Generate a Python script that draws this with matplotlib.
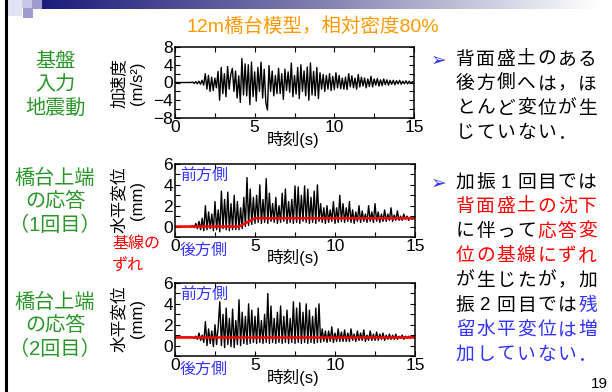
import numpy as np
import matplotlib.pyplot as plt
from matplotlib.ticker import MultipleLocator
from matplotlib.colors import LinearSegmentedColormap
from matplotlib.patches import Rectangle

plt.rcParams['font.family'] = ['Liberation Sans', 'Noto Sans CJK JP', 'DejaVu Sans']

W, H = 612, 392

# ---------------- data (0.1 s step) ----------------
dt = 0.1
acc = [0, 0, 0, 0, 0, 0, 0, 0, 0, 0, 0,
       0.1, -0.2, 0.2, -0.3, 0.3, -0.4, 0.5, -0.6,
       2.0, -1.5, 1.6, -2.0, 1.2, -1.8, 1.0, -1.2,
       2.5, -4.0, 3.4, -2.5, 2.0, -3.2, 3.6, -1.5, 1.8,
       3.2, -2.0, 2.6, -3.5, 1.5, -4.5, 5.4, -2.8, 4.2, -3.0,
       4.0, -5.0, 4.6, -3.2, 2.4, -4.2, 3.4, -2.0, 4.6, -3.5,
       3.0, -4.5, -6.2, 3.8, -2.0, 2.6, -3.0, 1.6, -2.5, 3.2,
       -2.5, 2.0, -3.8, 3.0, -1.8, 2.4, -2.2, 4.4, -3.2, 1.6,
       -2.6, 3.4, -3.6, 4.0, -2.0, 2.6, -3.0, 3.5, -4.0, 4.4,
       -2.8, 2.5, -3.0, 3.4, -3.6, 2.2, -1.5, 1.8, -2.0, 1.6,
       -1.5, 2.0, -1.8, 1.4, -1.6, 2.2, -1.2, 1.6, -1.4, 1.0,
       -1.5, 1.2, -1.6, 2.0, -1.0, 1.5, -1.2, 1.0, -1.5, 1.8,
       -1.0, 1.2, -0.8, 1.0, -1.2, 0.8, -0.9, 1.4, -1.0, 0.8,
       -0.6, 0.9, -0.8, 0.6, -0.7, 0.8, -0.5, 0.6, -0.6, 0.5,
       -0.4, 0.5, -0.5, 0.4, -0.3, 0.5, -0.4, 0.3, -0.3, 0.4,
       -0.3, 0.3, -0.2, 0.2, 0.0]

disp1 = [0, 0, 0, 0, 0, 0, 0, 0, 0, 0, 0,
         0.1, -0.1, 0.3, -0.2, 0.5, -0.3, 0.8, -0.4,
         2.0, -0.3, 1.4, -0.2, 1.2, -0.4, 2.4, -0.3,
         1.6, -0.5, 3.4, -0.2, 2.6, -0.3, 3.3, -0.4, 2.2,
         -0.3, 3.0, -0.3, 2.4, -0.3, 1.8, -0.2, 2.8, 0.0, 4.7,
         0.1, 3.6, 0.2, 2.8, 0.3, 3.0, 0.4, 4.0, 0.3, 2.6,
         0.4, 4.6, 0.3, 3.2, 0.5, 2.2, 0.4, 2.8, 0.3, 2.0,
         0.4, 3.2, 0.5, 3.6, 0.3, 2.4, 0.4, 2.6, 0.3, 3.9,
         0.4, 3.8, 0.3, 3.0, 0.5, 3.9, 0.4, 3.6, 0.3, 2.8,
         0.4, 3.4, 0.3, 4.0, 0.5, 2.2, 0.4, 1.8, 0.3, 2.0,
         0.4, 1.6, 0.5, 2.4, 0.3, 1.8, 0.4, 3.0, 0.5, 2.2,
         0.4, 1.8, 0.5, 2.4, 0.4, 1.6, 0.3, 1.4, 0.5, 2.0,
         0.4, 1.5, 0.5, 1.2, 0.4, 2.0, 0.5, 1.4, 0.4, 2.2,
         0.5, 1.4, 0.4, 1.2, 0.5, 1.6, 0.5, 1.2, 0.6, 1.8,
         0.5, 1.1, 0.6, 1.5, 0.6, 1.0, 0.6, 1.2, 0.7, 1.0,
         0.6, 0.9, 0.7, 0.8, 0.8]

disp2 = [0.8, 0.8, 0.8, 0.8, 0.8, 0.8, 0.8, 0.8, 0.8, 0.8, 0.8,
         0.8, 0.7, 0.9, 0.6, 1.2, 0.5, 1.0, 0.3,
         2.3, 0.0, 1.6, 0.2, 1.4, -0.1, 2.0, 0.1,
         1.8, 4.2, 0.0, 3.0, -0.2, 3.6, 0.1, 2.6, -0.1,
         3.5, -0.2, 2.4, 0.1, 4.4, 0.0, 3.2, 0.2, 2.8, 0.1,
         4.0, 0.2, 3.4, 0.3, 2.8, 0.2, 3.6, 0.3, 2.4, 0.2,
         3.0, 0.3, 5.0, 0.2, 3.8, 0.3, 2.6, 0.2, 3.2, 0.3,
         3.8, 0.2, 2.8, 0.3, 3.4, 0.2, 2.6, 0.3, 4.2, 0.2,
         3.6, 0.3, 4.1, 0.2, 3.2, 0.3, 4.0, 0.2, 3.4, 0.3,
         2.8, 0.2, 3.6, 0.3, 4.0, 0.3, 1.6, 0.4, 1.4, 0.3,
         1.4, 0.4, 1.8, 0.3, 1.2, 0.4, 1.6, 0.4, 1.3, 0.4,
         1.5, 0.4, 1.2, 0.4, 1.6, 0.5, 1.1, 0.4, 1.4, 0.5,
         1.2, 0.5, 1.5, 0.4, 1.0, 0.5, 1.4, 0.5, 1.1, 0.5,
         1.3, 0.5, 1.1, 0.6, 1.2, 0.5, 1.0, 0.6, 1.1, 0.6,
         1.0, 0.6, 1.1, 0.6, 0.9, 0.7, 1.0, 0.6, 0.9, 0.7,
         0.9, 0.7, 0.9, 0.8, 0.9]

base1_t = [0, 4, 5, 15]
base1 = [0, 0, 0.8, 0.8]
base2_t = [0, 15]
base2 = [0.8, 0.8]

title = "12m橋台模型，相対密度80%"
left_labels = [["基盤", "入力", "地震動"],
               ["橋台上端", "の応答", "（1回目）"],
               ["橋台上端", "の応答", "（2回目）"]]
ylabels = [("加速度", "(m/s²)"), ("水平変位", "(mm)"), ("水平変位", "(mm)")]

K, R, B = 'black', '#ff0000', '#3333ff'
block1 = [[("背面盛土のある", K)],
          [("後方側へは，ほ", K)],
          [("とんど変位が生", K)],
          [("じていない．", K)]]
block2 = [[("加振1回目では", K)],
          [("背面盛土の沈下", R)],
          [("に伴って", K), ("応答変", R)],
          [("位の基線にずれ", R)],
          [("が生じたが，加", K)],
          [("振2回目では", K), ("残", B)],
          [("留水平変位は増", B)],
          [("加していない．", B)]]

# ---------------- figure ----------------
fig = plt.figure(figsize=(W / 100, H / 100), dpi=100)
bg = fig.add_axes([0, 0, 1, 1])
bg.set_xlim(0, W)
bg.set_ylim(H, 0)
bg.axis('off')

# slide decoration
cmap = LinearSegmentedColormap.from_list('bar', ['#1c1c7c', '#8080b0', '#ffffff'])
grad = np.linspace(0, 1, 256).reshape(1, -1)
bg.imshow(grad, cmap=cmap, extent=(42, 600, 8.5, 0), aspect='auto')
bg.add_patch(Rectangle((8, 0), 14, 16, color='#e2e2f2', lw=0))
bg.add_patch(Rectangle((22, 0), 10, 7.5, color='#c8c8e6', lw=0))
bg.add_patch(Rectangle((32, 0), 10, 8.5, color='#9c9ccf', lw=0))
bg.add_patch(Rectangle((23, 7.5), 10, 10, color='#9c9ccf', lw=0))
bg.plot([6, 6], [0, H], color='black', lw=2.2)

bg.text(313, 27, title, color='#ff9900', fontsize=14, ha='center', va='center')

# left green labels
green = '#2a962a'
for block, y0 in zip(left_labels, [61, 178, 302]):
    for i, s in enumerate(block):
        bg.text(55, y0 + 23.5 * i, s, color=green, fontsize=14.5, ha='center', va='center')


def style_axis(ax, ylim, major, minor):
    ax.set_facecolor('none')
    ax.set_xlim(0, 15)
    ax.set_ylim(*ylim)
    ax.xaxis.set_major_locator(MultipleLocator(5))
    ax.xaxis.set_minor_locator(MultipleLocator(2.5))
    ax.yaxis.set_major_locator(MultipleLocator(major))
    ax.yaxis.set_minor_locator(MultipleLocator(minor))
    ax.tick_params(which='both', direction='in', top=True, right=True,
                   length=3.5, width=0.8, labelsize=12.5, pad=1.5)
    for sp in ax.spines.values():
        sp.set_linewidth(1.1)


t_acc = np.arange(len(acc)) * dt
t1 = np.arange(len(disp1)) * dt
t2 = np.arange(len(disp2)) * dt

ax1 = fig.add_axes([175 / W, 1 - 118 / H, 239 / W, 71 / H])
ax1.plot(t_acc, acc, color='black', lw=1.0)
style_axis(ax1, (-8, 8), 4, 2)

ax2 = fig.add_axes([175 / W, 1 - 237 / H, 240 / W, 73 / H])
ax2.plot(t1, disp1, color='black', lw=1.0)
ax2.plot(base1_t, base1, color='red', lw=1.8)
style_axis(ax2, (-1, 6), 2, 1)

ax3 = fig.add_axes([175 / W, 1 - 356 / H, 240 / W, 73 / H])
ax3.plot(t2, disp2, color='black', lw=1.0)
ax3.plot(base2_t, base2, color='red', lw=1.8)
style_axis(ax3, (-1, 6), 2, 1)

# axis labels
for (l1, l2), yc in zip(ylabels, [83, 200, 319]):
    bg.text(119, yc, l1, rotation=90, fontsize=12, ha='center', va='center')
    bg.text(138, yc, l2, rotation=90, fontsize=12, ha='center', va='center')
for yb in [118, 237, 356]:
    bg.text(293, yb + 21, "時刻(s)", fontsize=12, ha='center', va='center')

# annotations inside the displacement plots
for yt in [164, 283]:
    bg.text(180, yt + 11, "前方側", color=B, fontsize=11.5, ha='left', va='center')
    bg.text(180, yt + 86, "後方側", color=B, fontsize=11.5, ha='left', va='center')
bg.text(112, 243, "基線の", color=R, fontsize=11.5, ha='left', va='center')
bg.text(112, 266, "ずれ", color=R, fontsize=11.5, ha='left', va='center')

# right-hand notes, fixed character pitch
pitch = 20.4


def draw_block(lines, y0):
    bg.text(439, y0, "➢", color=B, fontsize=13.5, ha='center', va='center',
            family='DejaVu Sans')
    for j, segs in enumerate(lines):
        i = 0
        for s, c in segs:
            for ch in s:
                bg.text(455 + pitch * (i + 0.5), y0 + 24.6 * j, ch, color=c,
                        fontsize=13.5, ha='center', va='center')
                i += 1


draw_block(block1, 60)
draw_block(block2, 183)

bg.text(591, 384, "19", fontsize=11, ha='left', va='center')

fig.savefig('out.png', dpi=100)
